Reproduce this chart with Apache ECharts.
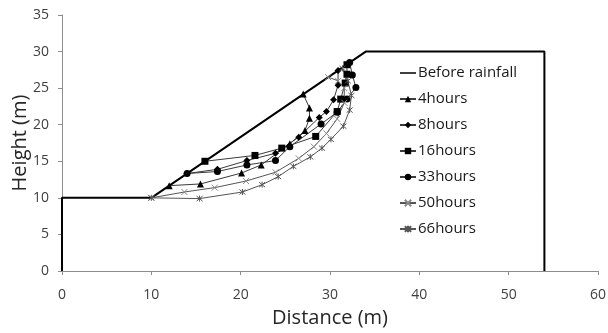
<!DOCTYPE html>
<html>
<head>
<meta charset="utf-8">
<script src="https://cdn.jsdelivr.net/npm/echarts@6/dist/echarts.min.js"></script>
<style>
  html, body { margin: 0; padding: 0; background: #fff; }
  #chart { width: 608px; height: 333px; }
</style>
</head>
<body>
<div id="chart"></div>
<script>
// Slope profile and slip surfaces, as [distance (m), height (m)] pairs
const seriesNames = ['Before rainfall', '4hours', '8hours', '16hours', '33hours', '50hours', '66hours'];

const beforeRainfall = [[0, 0], [0, 10], [10, 10], [34, 30], [54, 30], [54, 0]];

const hours4 = [[12, 11.67], [15.5, 11.9], [20.1, 13.4], [22.3, 14.5], [25.5, 17.4], [27.2, 19.2],
  [27.7, 20.9], [27.7, 22.3], [27, 24.2]];

const hours8 = [[14, 13.33], [17.4, 13.9], [20.7, 15.1], [23.9, 16.1], [26.5, 18.3], [28.8, 21.0],
  [29.6, 21.8], [30.4, 23.4], [30.9, 25.4], [30.9, 27.4]];

const hours16 = [[16, 15], [21.6, 15.8], [24.6, 16.8], [28.4, 18.4], [30.8, 21.8], [31.2, 23.5],
  [31.7, 25.7], [31.9, 26.9], [31.9, 28.2]];

const hours33 = [[14, 13.33], [17.4, 13.6], [20.7, 14.5], [23.9, 15.1], [25.5, 17.0], [29.0, 20.1],
  [30.8, 21.7], [31.9, 23.5], [32.9, 25.1], [32.5, 26.8], [32.2, 28.5]];

const hours50 = [[10, 10], [13.7, 10.8], [17.1, 11.4], [20.6, 12.3], [23.9, 13.5], [26.5, 15.4],
  [28.2, 17.0], [29.6, 18.8], [30.8, 20.8], [31.6, 23.0], [31.6, 25.0], [30.9, 26.0], [29.8, 26.5]];

const hours66 = [[10, 10], [15.4, 9.9], [20.2, 10.8], [22.4, 11.8], [24.2, 12.9], [25.9, 14.3],
  [27.8, 15.6], [29.1, 16.8], [30.1, 18.0], [31.5, 19.8], [32.2, 22.0], [32.4, 24.0], [32.0, 26.0], [31.4, 27.7]];

const xTicks = { min: 0, max: 60, step: 10 };
const yTicks = { min: 0, max: 35, step: 5 };

const crossPath = 'path://M0,0L10,10M10,0L0,10';
const starPath = 'path://M0,0L10,10M10,0L0,10M5,-1L5,11';
// plain horizontal stroke for the ground-profile legend entry (corner dots fix the box size)
const plainLineIcon = 'path://M0,0L0.01,0L0,0.01Z M0,3.2L16,3.2L16,4.8L0,4.8Z M16,8L15.99,8L16,7.99Z';

function curve(name, data, symbol, size, markerStyle, lineColor) {
  return {
    name: name,
    type: 'line',
    data: data,
    symbol: symbol,
    symbolSize: size,
    showAllSymbol: true,
    lineStyle: { color: lineColor || '#3a3a3a', width: 1 },
    itemStyle: markerStyle,
    z: 3
  };
}

const legendItems = seriesNames.map((n, i) => i === 0 ? { name: n, icon: plainLineIcon } : { name: n });

const chart = echarts.init(document.getElementById('chart'));
chart.setOption({
  animation: false,
  backgroundColor: '#ffffff',
  textStyle: { fontFamily: 'Open Sans' },
  grid: { left: 62, right: 10, top: 15, bottom: 62, containLabel: false, outerBoundsMode: 'none' },
  xAxis: {
    type: 'value',
    min: xTicks.min, max: xTicks.max, interval: xTicks.step,
    name: 'Distance (m)',
    nameLocation: 'middle',
    nameGap: 37,
    nameMoveOverlap: false,
    nameTextStyle: { fontSize: 20, color: '#262626', fontFamily: 'Open Sans' },
    axisLine: { lineStyle: { color: '#8c8c8c', width: 1 } },
    axisTick: { show: true, length: 4, lineStyle: { color: '#8c8c8c' } },
    axisLabel: { fontSize: 14, color: '#404040', margin: 17 },
    splitLine: { show: false }
  },
  yAxis: {
    type: 'value',
    min: yTicks.min, max: yTicks.max, interval: yTicks.step,
    name: 'Height (m)',
    nameLocation: 'middle',
    nameGap: 32,
    nameMoveOverlap: false,
    nameTextStyle: { fontSize: 20, color: '#262626', fontFamily: 'Open Sans' },
    axisLine: { show: true, lineStyle: { color: '#8c8c8c', width: 1 } },
    axisTick: { show: true, length: 4, lineStyle: { color: '#8c8c8c' } },
    axisLabel: { fontSize: 14, color: '#404040', margin: 13 },
    splitLine: { show: false }
  },
  legend: {
    orient: 'vertical',
    left: 394,
    top: 59,
    itemWidth: 16,
    itemHeight: 8,
    itemGap: 8,
    data: legendItems,
    textStyle: { fontSize: 15, color: '#1a1a1a', lineHeight: 18, padding: [0, 0, 0, -3] },
    backgroundColor: 'rgba(255,255,255,0)'
  },
  series: [
    {
      name: seriesNames[0],
      type: 'line',
      data: beforeRainfall,
      symbol: 'none',
      lineStyle: { color: '#000', width: 2 },
      itemStyle: { color: '#000' },
      z: 2
    },
    curve(seriesNames[1], hours4, 'triangle', 7, { color: '#000' }),
    curve(seriesNames[2], hours8, 'diamond', 7, { color: '#000' }),
    curve(seriesNames[3], hours16, 'rect', 7, { color: '#000' }),
    curve(seriesNames[4], hours33, 'circle', 7, { color: '#000' }),
    curve(seriesNames[5], hours50, crossPath, 6, { color: 'none', borderColor: '#8a8a8a', borderWidth: 1 }, '#555'),
    curve(seriesNames[6], hours66, starPath, 6, { color: 'none', borderColor: '#555', borderWidth: 1 }, '#555')
  ]
});
</script>
</body>
</html>
